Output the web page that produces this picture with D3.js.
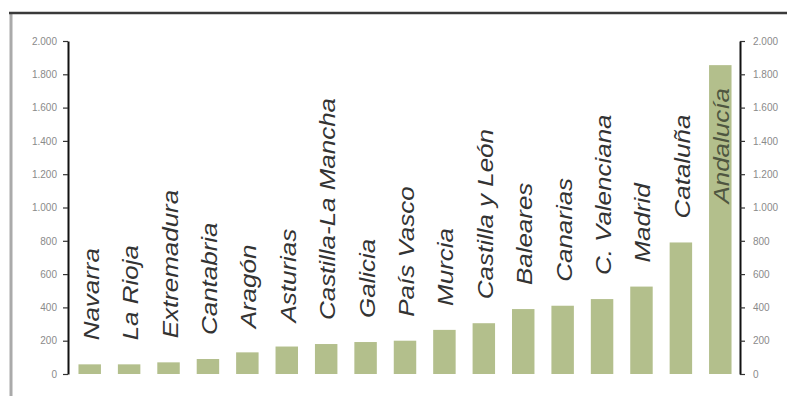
<!DOCTYPE html>
<html>
<head>
<meta charset="utf-8">
<script src="https://cdn.jsdelivr.net/npm/d3@7"></script>
<style>
  html, body { margin: 0; padding: 0; background: #fff; }
  svg { display: block; }
</style>
</head>
<body>
<svg id="chart" width="787" height="396"></svg>
<script>
const regions = ['Navarra', 'La Rioja', 'Extremadura', 'Cantabria', 'Aragón', 'Asturias',
  'Castilla-La Mancha', 'Galicia', 'País Vasco', 'Murcia', 'Castilla y León', 'Baleares',
  'Canarias', 'C. Valenciana', 'Madrid', 'Cataluña', 'Andalucía'];
const values = [58, 58, 70, 90, 130, 165, 180, 192, 200, 265, 305, 390, 410, 450, 525, 790, 1855];
const yTicks = [0, 200, 400, 600, 800, 1000, 1200, 1400, 1600, 1800, 2000];

const width = 787, height = 396;
const svg = d3.select('#chart');

// frame bits (the picture is a crop of a bordered box)
svg.append('line')
  .attr('x1', 11).attr('x2', 11).attr('y1', 13).attr('y2', height)
  .attr('stroke', '#aaa').attr('stroke-width', 3);
svg.append('line')
  .attr('x1', 9).attr('x2', width).attr('y1', 13).attr('y2', 13)
  .attr('stroke', '#3a3a3a').attr('stroke-width', 2.5);

const x = d3.scaleBand()
  .domain(regions)
  .range([70, 740])
  .paddingInner(0.43)
  .paddingOuter(0.215);

const y = d3.scaleLinear()
  .domain([0, 2000])
  .range([374, 41]);

const locale = d3.formatLocale({ decimal: ',', thousands: '.', grouping: [3], currency: ['', '€'] });
const fmt = locale.format(',d');

function styleAxis(g) {
  g.select('.domain').attr('stroke', '#111').attr('stroke-width', 2);
  g.selectAll('.tick line').attr('stroke', '#333').attr('stroke-width', 1.2);
  g.selectAll('.tick text')
    .attr('fill', '#8a8a8a')
    .style('font-family', '"Liberation Sans", Arial, sans-serif')
    .style('font-size', '10px');
}

svg.append('g')
  .attr('transform', 'translate(68,0)')
  .call(d3.axisLeft(y).tickValues(yTicks).tickFormat(fmt).tickSize(5).tickSizeOuter(0).tickPadding(6))
  .call(styleAxis);

svg.append('g')
  .attr('transform', 'translate(740,0)')
  .call(d3.axisRight(y).tickValues(yTicks).tickFormat(fmt).tickSize(5).tickSizeOuter(0).tickPadding(8))
  .call(styleAxis);

// bars
svg.append('g')
  .selectAll('rect')
  .data(regions)
  .join('rect')
  .attr('x', d => x(d))
  .attr('width', x.bandwidth())
  .attr('y', (d, i) => y(values[i]))
  .attr('height', (d, i) => y(0) - y(values[i]))
  .attr('fill', '#b3bf8c');

// rotated labels above each bar (inside the bar when there is no room)
const labels = svg.append('g')
  .selectAll('text')
  .data(regions)
  .join('text')
  .text(d => d)
  .attr('fill', '#333')
  .style('font-family', '"Liberation Sans", Arial, sans-serif')
  .style('font-style', 'italic')
  .style('font-size', '22px');

labels.each(function (d, i) {
  const t = d3.select(this);
  const len = this.getComputedTextLength() * 1.18;
  const cx = x(d) + x.bandwidth() / 2 + 9;
  const top = y(values[i]);
  if (top - 24 - len < 40) {
    t.attr('text-anchor', 'end')
      .attr('fill', '#4f5640')
      .attr('transform', `translate(${cx},${top + 23}) rotate(-90) scale(1.18,1)`);
  } else {
    t.attr('text-anchor', 'start')
      .attr('transform', `translate(${cx},${top - 24}) rotate(-90) scale(1.18,1)`);
  }
});
</script>
</body>
</html>
